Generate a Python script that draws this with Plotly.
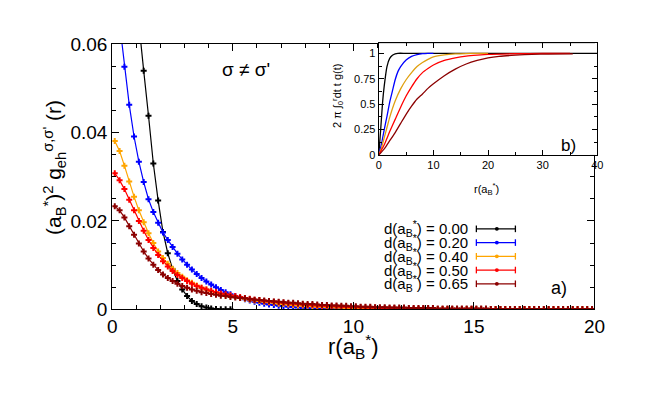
import plotly.graph_objects as go

W, H = 664, 399

# ---------------- data ----------------
# main panel: radial grid of the markers, r(a_B*)
r_step = 0.2
r_start = 0.1

g_d000 = [0.108, 0.104, 0.096, 0.086, 0.075, 0.064, 0.054, 0.0438, 0.0330, 0.0246,
          0.0175, 0.0127, 0.0091, 0.0064, 0.0045, 0.0030, 0.0019, 0.0012, 0.0007, 0.0004,
          0.0002, 0.0001, 0.00005, 0.0, 0.0]

g_d020 = [0.074, 0.0643, 0.0549, 0.0463, 0.0391, 0.0334, 0.0288, 0.0249, 0.0220, 0.0196,
          0.0174, 0.0157, 0.0141, 0.0126, 0.0113, 0.0101, 0.0090, 0.0080, 0.0071, 0.0063,
          0.0056, 0.0050, 0.0044, 0.0039, 0.0034, 0.0030, 0.0026, 0.0023, 0.0020, 0.0017,
          0.0015, 0.0013, 0.0011, 0.0010, 0.0008, 0.0007, 0.0006, 0.0005, 0.0004, 0.0003,
          0.0003, 0.0002, 0.0002, 0.0002, 0.0001, 0.0001, 0.0001, 0.0001, 0.0001, 0.0001,
          0.00005, 0.00005, 0.00005, 0.00005, 0.00005, 0.00005, 0.0, 0.0, 0.0, 0.0,
          0.0, 0.0, 0.0, 0.0, 0.0, 0.0]

g_d040 = [0.0381, 0.0358, 0.0325, 0.0289, 0.0255, 0.0224, 0.0197, 0.0172, 0.0150, 0.0131,
          0.0116, 0.0103, 0.0092, 0.0082, 0.0074, 0.0066, 0.0060, 0.0054, 0.0049, 0.0045,
          0.0041, 0.0038, 0.0035, 0.0032, 0.0030, 0.0028, 0.0026, 0.0024, 0.0022, 0.0020,
          0.0019, 0.0017, 0.0016, 0.0015, 0.0013, 0.0012, 0.0011, 0.0010, 0.0009, 0.0009,
          0.0008, 0.0007, 0.0006, 0.0006, 0.0005, 0.0005, 0.0004, 0.0004, 0.0003, 0.0003,
          0.0003, 0.0002, 0.0002, 0.0002, 0.0002, 0.0002, 0.0001, 0.0001, 0.0001, 0.0001,
          0.0001, 0.0001, 0.0001, 0.0001, 0.0001, 0.0001, 0.0001, 0.0001, 0.0001, 0.0001,
          0.0001, 0.0001, 0.0001, 0.0001, 0.0001, 0.00005, 0.00005, 0.00005, 0.00005, 0.00005,
          0.00005, 0.00005, 0.00005, 0.00005, 0.00005, 0.00005, 0.00005, 0.00005, 0.00005, 0.00005,
          0.00005, 0.00005, 0.00005, 0.00005, 0.00005, 0.00005, 0.00005, 0.00005, 0.00005, 0.00005]

g_d050 = [0.0308, 0.0292, 0.0272, 0.0248, 0.0224, 0.0200, 0.0178, 0.0157, 0.0139, 0.0123,
          0.0109, 0.0097, 0.0087, 0.0078, 0.0071, 0.0064, 0.0058, 0.0053, 0.0049, 0.0045,
          0.0042, 0.0039, 0.0036, 0.0034, 0.0032, 0.0030, 0.0028, 0.0026, 0.0024, 0.0022,
          0.0021, 0.0019, 0.0018, 0.0017, 0.0016, 0.0015, 0.0014, 0.0013, 0.0012, 0.0011,
          0.0010, 0.0010, 0.0009, 0.0008, 0.0008, 0.0007, 0.0007, 0.0006, 0.0006, 0.0005,
          0.0005, 0.0005, 0.0004, 0.0004, 0.0004, 0.0003, 0.0003, 0.0003, 0.0003, 0.0002,
          0.0002, 0.0002, 0.0002, 0.0002, 0.0002, 0.0002, 0.0002, 0.0001, 0.0001, 0.0001,
          0.0001, 0.0001, 0.0001, 0.0001, 0.0001, 0.0001, 0.0001, 0.0001, 0.0001, 0.0001,
          0.0001, 0.0001, 0.0001, 0.0001, 0.0001, 0.0001, 0.0001, 0.0001, 0.00005, 0.00005,
          0.00005, 0.00005, 0.00005, 0.00005, 0.00005, 0.00005, 0.00005, 0.00005, 0.00005, 0.00005]

g_d065 = [0.0233, 0.0224, 0.0208, 0.0188, 0.0169, 0.0149, 0.0131, 0.0115, 0.0101, 0.0089,
          0.0079, 0.0071, 0.0064, 0.0058, 0.0053, 0.0049, 0.0045, 0.0042, 0.0039, 0.0037,
          0.0035, 0.0033, 0.0031, 0.0030, 0.0028, 0.0027, 0.0026, 0.0025, 0.0023, 0.0022,
          0.0021, 0.0020, 0.0019, 0.0018, 0.0017, 0.0016, 0.0015, 0.0015, 0.0014, 0.0013,
          0.0012, 0.0012, 0.0011, 0.0010, 0.0010, 0.0009, 0.0009, 0.0008, 0.0008, 0.0007,
          0.0007, 0.0006, 0.0006, 0.0006, 0.0005, 0.0005, 0.0005, 0.0004, 0.0004, 0.0004,
          0.0004, 0.0003, 0.0003, 0.0003, 0.0003, 0.0003, 0.0003, 0.0002, 0.0002, 0.0002,
          0.0002, 0.0002, 0.0002, 0.0002, 0.0002, 0.0002, 0.0002, 0.0002, 0.0001, 0.0001,
          0.0001, 0.0001, 0.0001, 0.0001, 0.0001, 0.0001, 0.0001, 0.0001, 0.0001, 0.0001,
          0.0001, 0.0001, 0.0001, 0.0001, 0.0001, 0.0001, 0.0001, 0.0001, 0.0001, 0.0001]

# inset: cumulative integral 2*pi*int_0^r dt t g(t)
cdf_r_d000 = [0, 0.35, 0.7, 1.0, 1.5, 2.0, 2.5, 3.0, 3.5, 5, 10, 20, 30, 40]
cdf_d000 = [0, 0.25, 0.52, 0.68, 0.87, 0.95, 0.98, 0.995, 1.0, 1.0, 1.0, 1.0, 1.0, 1.0]

cdf_r_d020 = [0, 0.5, 1, 1.5, 2, 2.5, 3, 3.5, 4, 5, 6, 7, 8, 9, 10]
cdf_d020 = [0, 0.11, 0.25, 0.38, 0.52, 0.63, 0.74, 0.82, 0.87, 0.935, 0.97, 0.988, 0.997, 1.0, 1.0]

cdf_r_d040 = [0, 0.5, 1, 1.5, 2, 3, 4, 5, 6, 7, 8, 9, 10, 12, 14, 16, 18, 20]
cdf_d040 = [0, 0.07, 0.17, 0.27, 0.37, 0.53, 0.65, 0.74, 0.81, 0.87, 0.91, 0.94, 0.965, 0.985, 0.994, 0.998, 1.0, 1.0]

cdf_r_d050 = [0, 1, 2, 3, 4, 5, 6, 7, 8, 9, 10, 12, 14, 16, 18, 20, 25, 30, 35]
cdf_d050 = [0, 0.10, 0.23, 0.35, 0.47, 0.58, 0.67, 0.75, 0.81, 0.85, 0.885, 0.93, 0.955, 0.972, 0.982, 0.99, 0.996, 0.999, 1.0]

cdf_r_d065 = [0, 1, 2, 3, 4, 5, 6, 7, 8, 9, 10, 12, 14, 16, 18, 20, 22, 25, 28, 31, 35.5]
cdf_d065 = [0, 0.06, 0.14, 0.22, 0.31, 0.40, 0.48, 0.55, 0.60, 0.655, 0.70, 0.78, 0.845, 0.895, 0.93, 0.955, 0.97, 0.982, 0.99, 0.993, 0.995]

labels = ["d(a<sub>B</sub><sup>*</sup>) = 0.00", "d(a<sub>B</sub><sup>*</sup>) = 0.20",
          "d(a<sub>B</sub><sup>*</sup>) = 0.40", "d(a<sub>B</sub><sup>*</sup>) = 0.50",
          "d(a<sub>B</sub><sup>*</sup>) = 0.65"]
colors = ["#000000", "#0000ff", "#ffa500", "#ff0000", "#8b0000"]
inset_colors = ["#000000", "#0000ff", "#e0a010", "#ff0000", "#8b0000"]

main_series = [g_d000, g_d020, g_d040, g_d050, g_d065]
inset_series = [(cdf_r_d000, cdf_d000), (cdf_r_d020, cdf_d020), (cdf_r_d040, cdf_d040),
                (cdf_r_d050, cdf_d050), (cdf_r_d065, cdf_d065)]

# ---------------- layout helpers ----------------
def px(x):
    return x / W

def py(y):
    return 1 - y / H

FONT = "Liberation Sans, Arial, Helvetica, sans-serif"

fig = go.Figure()

for vals, col in zip(main_series, colors):
    rr = [round(r_start + r_step * k, 2) for k in range(len(vals))]
    fig.add_trace(go.Scatter(
        x=rr, y=vals, mode="lines+markers", xaxis="x", yaxis="y",
        line=dict(color=col, width=1.2),
        marker=dict(symbol="cross", size=5, color=col, line=dict(width=0)),
        showlegend=False, cliponaxis=True))

for (rr, vv), col in zip(inset_series, inset_colors):
    fig.add_trace(go.Scatter(
        x=rr, y=vv, mode="lines", xaxis="x2", yaxis="y2",
        line=dict(color=col, width=1.3, shape="spline", smoothing=0.6),
        showlegend=False))

# main axes
main_l, main_r, main_t, main_b = 110, 604, 36, 316
ins_l, ins_r, ins_t, ins_b = 383, 607, 35, 153

axis_common = dict(showline=True, linecolor="black", linewidth=1.2, mirror="allticks",
                   ticks="inside", showgrid=False, zeroline=False, tickcolor="black")

fig.update_layout(
    width=W, height=H, margin=dict(l=0, r=0, t=0, b=0),
    paper_bgcolor="white", plot_bgcolor="white",
    font=dict(family=FONT, color="black"),
    xaxis=dict(domain=[px(main_l), px(main_r)], range=[0, 20], dtick=5, ticklen=7, tickwidth=1,
               tickfont=dict(size=19),
               minor=dict(dtick=1, ticks="inside", ticklen=4, tickcolor="black"),
               anchor="y", **axis_common),
    yaxis=dict(domain=[py(main_b), py(main_t)], range=[0, 0.06], dtick=0.02, ticklen=7, tickwidth=1,
               tickfont=dict(size=19),
               minor=dict(dtick=0.005, ticks="inside", ticklen=4, tickcolor="black"),
               anchor="x", **axis_common),
    xaxis2=dict(domain=[px(ins_l), px(ins_r)], range=[0, 40], dtick=10, ticklen=5, tickwidth=1,
                tickfont=dict(size=11),
                minor=dict(dtick=5, ticks="inside", ticklen=3, tickcolor="black"),
                anchor="y2", **axis_common),
    yaxis2=dict(domain=[py(ins_b), py(ins_t)], range=[0, 1.1], dtick=0.25, ticklen=5, tickwidth=1,
                tickfont=dict(size=11),
                minor=dict(dtick=0.125, ticks="inside", ticklen=3, tickcolor="black"),
                anchor="x2", **axis_common),
)

ann = []
# axis titles
ann.append(dict(x=px(357), y=py(355), xref="paper", yref="paper", showarrow=False,
                text="r(a<sub>B</sub><sup>*</sup>)", font=dict(size=22), xanchor="center", yanchor="middle"))
ann.append(dict(x=px(50), y=py(166), xref="paper", yref="paper", showarrow=False, textangle=-90,
                text="(a<sub>B</sub><sup>*</sup>)<sup>2</sup> g<sub>eh</sub><sup>σ,σ'</sup> (r)",
                font=dict(size=21), xanchor="center", yanchor="middle"))
ann.append(dict(x=px(247), y=py(63), xref="paper", yref="paper", showarrow=False,
                text="σ ≠ σ'", font=dict(size=19), xanchor="center", yanchor="middle"))
ann.append(dict(x=px(568), y=py(293), xref="paper", yref="paper", showarrow=False,
                text="a)", font=dict(size=18), xanchor="center", yanchor="middle"))
# inset texts
ann.append(dict(x=px(577), y=py(143), xref="paper", yref="paper", showarrow=False,
                text="b)", font=dict(size=17), xanchor="center", yanchor="middle"))
ann.append(dict(x=px(493), y=py(189), xref="paper", yref="paper", showarrow=False,
                text="r(a<sub>B</sub><sup>*</sup>)", font=dict(size=11), xanchor="center", yanchor="middle"))
ann.append(dict(x=px(341), y=py(90), xref="paper", yref="paper", showarrow=False, textangle=-90,
                text="2 π ∫<sub>0</sub><sup>r</sup>dt t g(t)", font=dict(size=11),
                xanchor="center", yanchor="middle"))

# manual legend
shapes = []
rows = [231, 245.5, 260, 274.5, 289]
for lab, col, yy in zip(labels, colors, rows):
    ann.append(dict(x=px(476), y=py(yy), xref="paper", yref="paper", showarrow=False,
                    text=lab, font=dict(size=15), xanchor="right", yanchor="middle"))
    shapes.append(dict(type="line", xref="paper", yref="paper", x0=px(483), x1=px(523),
                       y0=py(yy), y1=py(yy), line=dict(color=col, width=1.3)))
    for xc in (483, 523):
        shapes.append(dict(type="line", xref="paper", yref="paper", x0=px(xc), x1=px(xc),
                           y0=py(yy - 3.5), y1=py(yy + 3.5), line=dict(color=col, width=1.3)))
    shapes.append(dict(type="circle", xref="paper", yref="paper", x0=px(502), x1=px(506),
                       y0=py(yy - 2), y1=py(yy + 2), fillcolor=col, line=dict(color=col, width=0)))

fig.update_layout(annotations=ann, shapes=shapes)

fig.write_html("out.html", config={"displayModeBar": False},
               post_script="document.body.style.margin='0px';")
